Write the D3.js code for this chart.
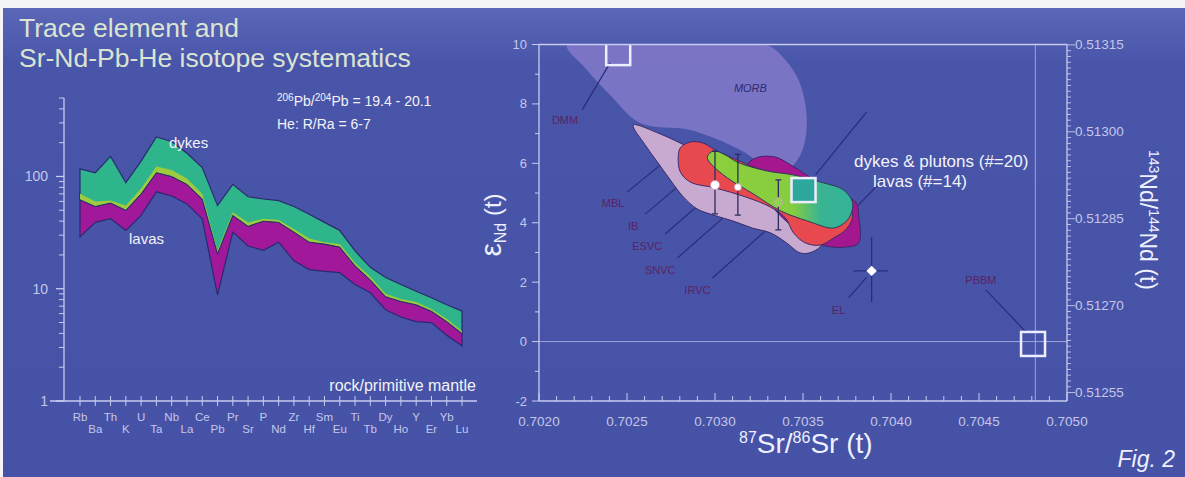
<!DOCTYPE html>
<html><head><meta charset="utf-8">
<script src="https://cdn.jsdelivr.net/npm/d3@7"></script>
<style>body{margin:0;background:#fff;} svg{display:block;font-family:"Liberation Sans",Arial,sans-serif;}</style>
</head><body><svg id="c" width="1185" height="477"></svg>
<script>
// ---------- left panel data (rock / primitive mantle) ----------
const elements = ["Rb","Ba","Th","K","U","Ta","Nb","La","Ce","Pb","Pr","Sr","P","Nd","Zr","Hf","Sm","Eu","Ti","Tb","Dy","Ho","Y","Er","Yb","Lu"];
const dykesHigh = [117,108,151,88,137,225,205,161,120,55,85,66,63,61,54,46,39,33,21.7,15.5,12.6,10.9,9.5,8.3,7.2,6.3];
const dykesLow  = [62,54,58,50,70,108,100,85,63,20.5,45,36,40,39,32,26,25,23.5,16,12,8.5,7.7,7.2,6.3,5.1,4.0];
const lavasHigh = [70,60,61,55,78,123,114,96,70,22,48,39,42,41,34,28,26,25,17,12.8,9,8.1,7.6,6.6,5.4,4.2];
const lavasLow  = [29,39,42,33,45,73,67,57,42,8.8,32,24,22,26,17.7,14.8,14.3,13.9,10.9,9.2,6.5,5.6,5.1,5.0,3.85,3.1];
const spiderTicks = [1,10,100];

// ---------- right panel data (Sr-Nd isotopes) ----------
const srTicks = [0.7020,0.7025,0.7030,0.7035,0.7040,0.7045,0.7050];
const endTicks = [-2,0,2,4,6,8,10];
const ndRatioTicks = [0.51255,0.51270,0.51285,0.51300,0.51315];
const CHUR = 0.512638;
const bulkEarthSr = 0.70482;

const morbField = [[0.702159,10],[0.703287,10],[0.703400,9.48],[0.703474,8.81],[0.703514,7.96],[0.703520,7.12],[0.703497,6.45],[0.703446,5.94],[0.703372,5.61],[0.703144,6.45],[0.702860,7.12],[0.702575,7.36],[0.702404,8.30],[0.702262,9.21]];
const lavenderField = [[0.702535,7.29],[0.702603,6.62],[0.702672,6.05],[0.702746,5.44],[0.702820,4.87],[0.702900,4.46],[0.702991,4.26],[0.703116,4.03],[0.703213,3.82],[0.703315,3.66],[0.703400,3.35],[0.703486,2.98],[0.703554,3.02],[0.703611,3.32],[0.703571,3.92],[0.703429,4.77],[0.703258,5.44],[0.703030,6.05],[0.702860,6.52],[0.702689,6.99]];
const magentaField = [[0.703190,6.01],[0.703247,6.21],[0.703344,6.21],[0.703429,5.95],[0.703657,5.10],[0.703799,4.70],[0.703816,4.26],[0.703816,3.32],[0.703742,3.18],[0.703628,3.22],[0.703543,3.42],[0.703429,3.92],[0.703315,4.60],[0.703230,5.27],[0.703190,5.78]];
const redField = [[0.702791,6.18],[0.702803,6.52],[0.702860,6.72],[0.702934,6.68],[0.703002,6.45],[0.703258,5.78],[0.703486,5.27],[0.703714,4.77],[0.703782,4.26],[0.703742,3.76],[0.703674,3.49],[0.703600,3.25],[0.703514,3.32],[0.703446,3.66],[0.703400,4.16],[0.703315,4.53],[0.703173,4.87],[0.703002,5.17],[0.702860,5.37],[0.702803,5.71]];
const greenField = [[0.702956,6.21],[0.702991,6.42],[0.703059,6.28],[0.703127,6.04],[0.703298,5.74],[0.703446,5.61],[0.703600,5.37],[0.703731,5.10],[0.703782,4.67],[0.703770,4.26],[0.703742,4.03],[0.703674,3.82],[0.703526,4.06],[0.703372,4.40],[0.703218,4.97],[0.703070,5.51],[0.702973,6.01]];

const refSquares = [ {sr:0.702450, nd:9.71, fill:"none"}, {sr:0.703503, nd:5.10, fill:"#2ea79c"}, {sr:0.704807, nd:-0.08, fill:"none"} ];
const samplesSr = [0.70300,0.70313,0.70336];
const samplesNd = [5.27,5.20,4.70];
const samplesNdLo = [4.30,4.26,3.76];
const samplesNdHi = [6.40,6.30,5.44];
const samplesFill = ["#ffffff","#ffffff","#8fd44a"];
const elPoint = {sr:0.70389, nd:2.38, srLo:0.703787, srHi:0.703981, ndLo:1.33, ndHi:3.52};

const fieldLabels = ["DMM","MBL","IB","ESVC","SNVC","IRVC","EL","PBBM"];
const labelAt = [[0.702148,7.46],[0.702421,4.67],[0.702535,3.89],[0.702615,3.22],[0.702689,2.41],[0.702900,1.74],[0.703702,1.07],[0.704511,2.08]];
const leaders = [
  [[0.702404,9.38],[0.702245,7.80]],
  [[0.702501,5.03],[0.702780,6.38]],
  [[0.702603,4.29],[0.702934,5.94]],
  [[0.702717,3.62],[0.703042,5.30]],
  [[0.702786,2.81],[0.703173,4.83]],
  [[0.702985,2.14],[0.703344,4.03]],
  [[0.703759,1.47],[0.703862,2.17]],
  [[0.704539,1.74],[0.704772,0.29]],
  [[0.703862,7.73],[0.703571,5.61]],
  [[0.703953,5.44],[0.703799,4.50]]
];

// ---------- drawing ----------
const svg = d3.select("#c");
const defs = svg.append("defs");
const bg = defs.append("linearGradient").attr("id","bg").attr("x1",0).attr("y1",0).attr("x2",0).attr("y2",1);
bg.append("stop").attr("offset","0%").attr("stop-color","#5a66b6");
bg.append("stop").attr("offset","12%").attr("stop-color","#4955a9");
bg.append("stop").attr("offset","100%").attr("stop-color","#4652a6");
svg.append("rect").attr("width",1185).attr("height",477).attr("fill","#f4f4f8");
svg.append("rect").attr("x",3).attr("y",8).attr("width",1182).attr("height",469).attr("fill","url(#bg)");

const axisCol = "#c9cbf0";
const labCol = "#c4c7ec";

// ===== Left panel =====
const L = svg.append("g");
L.append("text").attr("x",19).attr("y",37).attr("font-size",26.5).attr("fill","#dbe4d2").text("Trace element and");
L.append("text").attr("x",19).attr("y",67).attr("font-size",26.5).attr("fill","#dbe4d2").text("Sr-Nd-Pb-He isotope systematics");

const xs = d3.scalePoint().domain(elements).range([80,462]);
const ys = d3.scaleLog().domain([1,500]).range([401,98]);

const areaOf = (lo,hi)=>d3.area().x((d,i)=>xs(elements[i])).y0((d,i)=>ys(lo[i])).y1((d,i)=>ys(hi[i]));
L.append("path").attr("d",areaOf(lavasLow,lavasHigh)(elements)).attr("fill","#a1189b").attr("stroke","#2b2a6e").attr("stroke-width",1.2);
L.append("path").attr("d",areaOf(dykesLow,dykesHigh)(elements)).attr("fill","#2fb58c").attr("stroke","#2b2a6e").attr("stroke-width",1.2);
L.append("path").attr("d",areaOf(dykesLow,lavasHigh)(elements)).attr("fill","#9ccb3e").attr("stroke","none");
L.append("path").attr("d",d3.line().x((d,i)=>xs(elements[i])).y((d,i)=>ys(dykesLow[i]))(elements)).attr("fill","none").attr("stroke","#2b2a6e").attr("stroke-width",1);

// axes
L.append("line").attr("x1",64).attr("x2",64).attr("y1",98).attr("y2",401).attr("stroke",axisCol).attr("stroke-width",1.3);
L.append("line").attr("x1",50).attr("x2",477).attr("y1",401).attr("y2",401).attr("stroke",axisCol).attr("stroke-width",1.3);
const minor = [];
[1,10,100].forEach(dec=>{for(let k=2;k<=9;k++){const v=dec*k; if(v<=500) minor.push(v);}});
L.selectAll(".ymin").data(minor).join("line").attr("x1",59).attr("x2",64).attr("y1",d=>ys(d)).attr("y2",d=>ys(d)).attr("stroke",axisCol);
L.selectAll(".ymaj").data(spiderTicks).join("line").attr("x1",56).attr("x2",64).attr("y1",d=>ys(d)).attr("y2",d=>ys(d)).attr("stroke",axisCol).attr("stroke-width",1.3);
L.selectAll(".ylab").data(spiderTicks).join("text").attr("x",48).attr("y",d=>ys(d)+5).attr("text-anchor","end").attr("font-size",14).attr("fill",labCol).text(d=>d);
L.selectAll(".xt").data(elements).join("line").attr("x1",d=>xs(d)).attr("x2",d=>xs(d)).attr("y1",396).attr("y2",406).attr("stroke",axisCol);
L.selectAll(".xl").data(elements).join("text").attr("x",d=>xs(d)).attr("y",(d,i)=>i%2?433:421).attr("text-anchor","middle").attr("font-size",11.5).attr("fill",labCol).text(d=>d);

L.append("text").attr("x",169).attr("y",148).attr("font-size",15).attr("fill","#f2f2f8").text("dykes");
L.append("text").attr("x",129).attr("y",244).attr("font-size",15).attr("fill","#f2f2f8").text("lavas");
L.append("text").attr("x",476).attr("y",391).attr("text-anchor","end").attr("font-size",16).attr("fill","#f2f2f8").text("rock/primitive mantle");
const iso = L.append("text").attr("x",277).attr("y",106).attr("font-size",14).attr("fill","#f2f2f8");
iso.append("tspan").attr("font-size",10).attr("dy",-5).text("206");
iso.append("tspan").attr("dy",5).text("Pb/");
iso.append("tspan").attr("font-size",10).attr("dy",-5).text("204");
iso.append("tspan").attr("dy",5).text("Pb = 19.4 - 20.1");
L.append("text").attr("x",277).attr("y",129).attr("font-size",14).attr("fill","#f2f2f8").text("He: R/Ra = 6-7");

// ===== Right panel =====
const R = svg.append("g");
const xr = d3.scaleLinear().domain([0.7020,0.7050]).range([539,1067]);
const yr = d3.scaleLinear().domain([-2,10]).range([401,44.5]);
const yr2 = d3.scaleLinear().domain([CHUR*(1+yr.domain()[0]/1e4), CHUR*(1+yr.domain()[1]/1e4)]).range(yr.range());

const clip = defs.append("clipPath").attr("id","plotclip");
clip.append("rect").attr("x",539).attr("y",44.5).attr("width",528).attr("height",356.5);

const P = R.append("g").attr("clip-path","url(#plotclip)");
const poly = d3.line().x(d=>xr(d[0])).y(d=>yr(d[1])).curve(d3.curveCatmullRomClosed.alpha(0.5));
P.append("path").attr("d",poly(morbField)).attr("fill","#7d76c6").attr("opacity",0.95);
P.append("text").attr("x",xr(0.703201)).attr("y",yr(8.54)+4).attr("text-anchor","middle").attr("font-size",11).attr("font-style","italic").attr("fill","#2c2c72").text("MORB");

// reference lines
P.append("line").attr("x1",xr(bulkEarthSr)).attr("x2",xr(bulkEarthSr)).attr("y1",44.5).attr("y2",401).attr("stroke","#9fa3e0").attr("stroke-width",1);
P.append("line").attr("x1",539).attr("x2",1067).attr("y1",yr(0)).attr("y2",yr(0)).attr("stroke","#9fa3e0").attr("stroke-width",1);

// leader lines
P.selectAll(".lead").data(leaders).join("line")
  .attr("x1",d=>xr(d[0][0])).attr("y1",d=>yr(d[0][1])).attr("x2",d=>xr(d[1][0])).attr("y2",d=>yr(d[1][1]))
  .attr("stroke","#2a2d78").attr("stroke-width",1.2);

P.append("path").attr("d",poly(lavenderField)).attr("fill","#c8a9cf").attr("stroke","#3a2c6a").attr("stroke-width",1);
P.append("path").attr("d",poly(magentaField)).attr("fill","#a4178e").attr("stroke","#3a2c6a").attr("stroke-width",1);
P.append("path").attr("d",poly(redField)).attr("fill","#e8494f").attr("stroke","#3a2c6a").attr("stroke-width",1);
const gg = defs.append("linearGradient").attr("id","gf").attr("gradientUnits","userSpaceOnUse")
  .attr("x1",xr(0.7030)).attr("x2",xr(0.7038)).attr("y1",0).attr("y2",0);
gg.append("stop").attr("offset","0%").attr("stop-color","#8dcf3b");
gg.append("stop").attr("offset","55%").attr("stop-color","#86cd40");
gg.append("stop").attr("offset","75%").attr("stop-color","#39b492");
gg.append("stop").attr("offset","100%").attr("stop-color","#33b39a");
P.append("path").attr("d",poly(greenField)).attr("fill","url(#gf)").attr("stroke","#2a3b5a").attr("stroke-width",1);

// sample error bars
samplesSr.forEach((s,i)=>{
  P.append("line").attr("x1",xr(s)).attr("x2",xr(s)).attr("y1",yr(samplesNdLo[i])).attr("y2",yr(samplesNdHi[i])).attr("stroke","#2a2d60").attr("stroke-width",1.3);
  [samplesNdLo[i],samplesNdHi[i]].forEach(v=>P.append("line").attr("x1",xr(s)-3).attr("x2",xr(s)+3).attr("y1",yr(v)).attr("y2",yr(v)).attr("stroke","#2a2d60").attr("stroke-width",1.3));
});
P.selectAll(".smp").data(samplesSr).join("circle").attr("cx",d=>xr(d)).attr("cy",(d,i)=>yr(samplesNd[i])).attr("r",(d,i)=>i===1?3.5:4.5)
  .attr("fill",(d,i)=>samplesFill[i]).attr("stroke","#c9a0b0").attr("stroke-width",0.8);

// EL point
P.append("line").attr("x1",xr(elPoint.sr)).attr("x2",xr(elPoint.sr)).attr("y1",yr(elPoint.ndLo)).attr("y2",yr(elPoint.ndHi)).attr("stroke","#2a2d78").attr("stroke-width",1.3);
P.append("line").attr("x1",xr(elPoint.srLo)).attr("x2",xr(elPoint.srHi)).attr("y1",yr(elPoint.nd)).attr("y2",yr(elPoint.nd)).attr("stroke","#2a2d78").attr("stroke-width",1.3);
P.append("path").attr("d",d3.symbol().type(d3.symbolDiamond2).size(70)()).attr("transform",`translate(${xr(elPoint.sr)},${yr(elPoint.nd)})`).attr("fill","#ffffff");

// reference squares
P.selectAll(".sq").data(refSquares).join("rect")
  .attr("x",d=>xr(d.sr)-12).attr("y",d=>yr(d.nd)-12).attr("width",24).attr("height",24)
  .attr("fill",d=>d.fill).attr("stroke","#eceeff").attr("stroke-width",2.5);

// field labels
P.selectAll(".fl").data(fieldLabels).join("text")
  .attr("x",(d,i)=>xr(labelAt[i][0])).attr("y",(d,i)=>yr(labelAt[i][1])+4)
  .attr("text-anchor","middle").attr("font-size",11).attr("fill","#5b2263").text(d=>d);

// frame
R.append("line").attr("x1",539).attr("x2",1067).attr("y1",44.5).attr("y2",44.5).attr("stroke",axisCol).attr("stroke-width",1.3);
R.append("line").attr("x1",539).attr("x2",539).attr("y1",44.5).attr("y2",401).attr("stroke",axisCol).attr("stroke-width",1.3);
R.append("line").attr("x1",539).attr("x2",1067).attr("y1",401).attr("y2",401).attr("stroke",axisCol).attr("stroke-width",1.3);
R.append("line").attr("x1",1067).attr("x2",1067).attr("y1",44.5).attr("y2",401).attr("stroke",axisCol).attr("stroke-width",1.3);

// left axis ticks
R.selectAll(".lyt").data(d3.range(-2,10.01,1)).join("line").attr("x1",d=>endTicks.includes(d)?532:535).attr("x2",539).attr("y1",d=>yr(d)).attr("y2",d=>yr(d)).attr("stroke",axisCol);
R.selectAll(".lyl").data(endTicks).join("text").attr("x",527).attr("y",d=>yr(d)+4.5).attr("text-anchor","end").attr("font-size",13).attr("fill",labCol).text(d=>d);
// bottom axis ticks
R.selectAll(".bxt").data(d3.range(0,31).map(k=>0.7020+k*0.0001)).join("line").attr("x1",d=>xr(d)).attr("x2",d=>xr(d)).attr("y1",(d,i)=>i%5===0?393:396).attr("y2",401).attr("stroke",axisCol);
R.selectAll(".bxl").data(srTicks).join("text").attr("x",d=>xr(d)).attr("y",426).attr("text-anchor","middle").attr("font-size",13.5).attr("fill",labCol).text(d=>d.toFixed(4));
// right axis ticks
const rMinor = d3.range(0,62).map(k=>0.51255+k*0.00001).filter(v=>yr2(v)>=44);
R.selectAll(".rt").data(rMinor).join("line").attr("x1",1067).attr("x2",(d,i)=>i%15===0?1075:1071).attr("y1",d=>yr2(d)).attr("y2",d=>yr2(d)).attr("stroke",axisCol).attr("stroke-width",0.9);
R.selectAll(".rl").data(ndRatioTicks).join("text").attr("x",1075).attr("y",d=>yr2(d)+4.5).attr("font-size",13.5).attr("fill",labCol).text(d=>d.toFixed(5));

// axis titles
const xt = R.append("text").attr("x",739).attr("y",453).attr("font-size",28).attr("fill","#eef0ff");
xt.append("tspan").attr("font-size",16).attr("dy",-10).text("87");
xt.append("tspan").attr("dy",10).text("Sr/");
xt.append("tspan").attr("font-size",16).attr("dy",-10).text("86");
xt.append("tspan").attr("dy",10).text("Sr (t)");

const yt = R.append("text").attr("transform","translate(501,225) rotate(-90)").attr("text-anchor","middle").attr("font-size",24).attr("fill","#eef0ff");
yt.append("tspan").attr("font-size",30).text("ε");
yt.append("tspan").attr("font-size",16).attr("dy",5).text("Nd");
yt.append("tspan").attr("dy",-5).text(" (t)");

const y2t = R.append("text").attr("transform","translate(1140,220) rotate(90)").attr("text-anchor","middle").attr("font-size",23).attr("fill","#eef0ff");
y2t.append("tspan").attr("font-size",14).attr("dy",-9).text("143");
y2t.append("tspan").attr("dy",9).text("Nd/");
y2t.append("tspan").attr("font-size",14).attr("dy",-9).text("144");
y2t.append("tspan").attr("dy",9).text("Nd (t)");

R.append("text").attr("x",854).attr("y",167).attr("font-size",17).attr("fill","#f2f2fa").text("dykes & plutons (#=20)");
R.append("text").attr("x",873).attr("y",187).attr("font-size",17).attr("fill","#f2f2fa").text("lavas (#=14)");
R.append("text").attr("x",1175).attr("y",467).attr("text-anchor","end").attr("font-size",23).attr("font-style","italic").attr("fill","#eef0ff").text("Fig. 2");
</script></body></html>
